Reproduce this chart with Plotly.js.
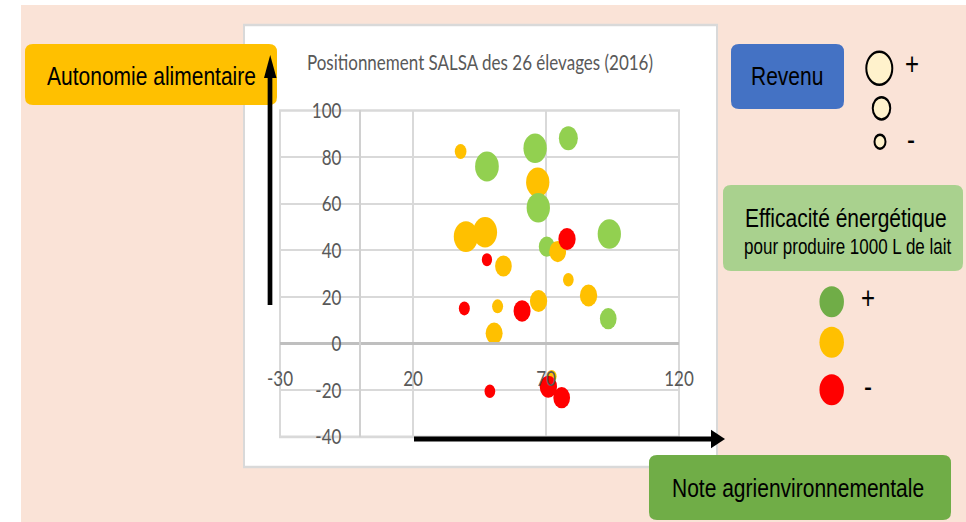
<!DOCTYPE html>
<html><head><meta charset="utf-8">
<script src="https://cdn.plot.ly/plotly-3.0.1.min.js"></script>
<style>
html,body{margin:0;padding:0;background:#fff;width:966px;height:522px;}
#wrap{width:966px;height:522px;position:relative;}
#chart{position:absolute;left:0;top:0;width:966px;height:411px;transform:scaleY(1.27);transform-origin:0 0;}
</style></head><body><div id="wrap"><div id="chart"></div></div>
<script>
// ---- data ----
const titleText = 'Positionnement SALSA des 26 élevages (2016)';
const labelX = 'Note agrienvironnementale';
const labelY = 'Autonomie alimentaire';
const labelRevenu = 'Revenu';
const labelEff1 = 'Efficacité énergétique';
const labelEff2 = 'pour produire 1000 L de lait';
const xTicks = [-30, 20, 70, 120];
const yTicks = [-40, -20, 0, 20, 40, 60, 80, 100];
const noteAgri  = [78.4, 65.9, 47.8, 93.8, 70.3, 93.4,
                   37.9, 66.9, 39.9, 47.1, 74.4, 54.0, 78.4, 86.0, 67.2, 51.8, 50.5, 72.1,
                   67.1,
                   77.9, 47.8, 39.3, 61.0, 48.9, 70.9, 75.9];
const autonomie = [88.1, 83.8, 76.0, 47.0, 41.6, 10.7,
                   82.4, 69.2, 45.9, 47.8, 39.5, 33.3, 27.4, 20.6, 18.3, 16.0, 4.4, -14.0,
                   58.3,
                   44.9, 36.0, 15.1, 14.0, -20.4, -18.5, -23.2];
const revenu    = [19, 23.3, 23.7, 23.3, 16, 16.7,
                   11.7, 23.3, 24.3, 24, 16.7, 16.7, 10.7, 17.3, 17.3, 11, 17, 10,
                   23.3,
                   17.3, 10.3, 11, 17, 10.7, 17.3, 16.7];
const efficacite = ['+','+','+','+','+','+',
                    '=','=','=','=','=','=','=','=','=','=','=','=',
                    '+',
                    '-','-','-','-','-','-','-'];

// ---- styles & geometry ----
const effColors = {'+': '#92D050', '=': '#FFC000', '-': '#FF0000'};
const S = 1.27, W = 966, H = 411;
const L = 280, R = 679, T = 87, B = 344;
const px = x => (x - L) / (R - L);
const py = y => (B - y / S) / (B - T);
const P = (x, y) => px(x).toFixed(5) + ',' + py(y).toFixed(5);

function roundRect(x0, y0, x1, y1, r, fill, line) {
  const d = 'M' + P(x0 + r, y0) + 'L' + P(x1 - r, y0) + 'Q' + P(x1, y0) + ' ' + P(x1, y0 + r) +
    'L' + P(x1, y1 - r) + 'Q' + P(x1, y1) + ' ' + P(x1 - r, y1) +
    'L' + P(x0 + r, y1) + 'Q' + P(x0, y1) + ' ' + P(x0, y1 - r) +
    'L' + P(x0, y0 + r) + 'Q' + P(x0, y0) + ' ' + P(x0 + r, y0) + 'Z';
  return {type: 'path', xref: 'paper', yref: 'paper', path: d, fillcolor: fill,
          line: line || {width: 0}, layer: 'above'};
}
function rect(x0, y0, x1, y1, fill, line, layer) {
  return {type: 'rect', xref: 'paper', yref: 'paper', x0: px(x0), x1: px(x1), y0: py(y1), y1: py(y0),
          fillcolor: fill, line: line || {width: 0}, layer: layer || 'below'};
}
function ellipse(cx, cy, d, fill, line) {
  return {type: 'circle', xref: 'paper', yref: 'paper',
          x0: px(cx - d / 2), x1: px(cx + d / 2), y0: py(cy + d * S / 2), y1: py(cy - d * S / 2),
          fillcolor: fill, line: line || {width: 0}, layer: 'above'};
}
function seg(x0, y0, x1, y1, w) {
  return {type: 'line', xref: 'paper', yref: 'paper', x0: px(x0), y0: py(y0), x1: px(x1), y1: py(y1),
          line: {color: '#000', width: w}, layer: 'above'};
}
function tri(a, b, c) {
  return {type: 'path', xref: 'paper', yref: 'paper', path: 'M' + P(a[0], a[1]) + 'L' + P(b[0], b[1]) + 'L' + P(c[0], c[1]) + 'Z',
          fillcolor: '#000', line: {width: 0}, layer: 'above'};
}
function txt(text, x, y, size, color) {
  return {text: text, xref: 'paper', yref: 'paper', x: px(x), y: py(y), showarrow: false,
          xanchor: 'center', yanchor: 'middle',
          font: {family: 'Liberation Sans, Arial, sans-serif', size: size, color: color || '#000'}};
}

const shapes = [
  rect(21, 5, 970, 530, '#FAE3D7'),
  rect(244, 25, 717, 467, '#FFFFFF', {color: '#D9D9D9', width: 2}),
  // label boxes
  roundRect(25, 44, 277, 105, 8, '#FFC000'),
  roundRect(649, 455, 951, 520, 8, '#70AD47'),
  roundRect(731, 44, 844, 109, 8, '#4472C4'),
  roundRect(723, 185, 963, 271, 8, '#A9D18E'),
  // axis arrows
  seg(270, 305, 270, 74, 4.7),
  tri([264, 78], [276.5, 78], [270.2, 55]),
  seg(414, 439, 713, 439, 4),
  tri([711, 429.8], [711, 448.3], [725, 439]),
  // revenu legend
  ellipse(879.3, 68.3, 26, '#FFF2CC', {color: '#000', width: 2}),
  ellipse(881.5, 108.3, 17.5, '#FFF2CC', {color: '#000', width: 2}),
  ellipse(880, 141.7, 11, '#FFF2CC', {color: '#000', width: 2}),
  // efficacite legend
  ellipse(831.7, 301.7, 24.5, '#70AD47'),
  ellipse(831.7, 342.3, 24.5, '#FFC000'),
  ellipse(831.7, 389.7, 24.5, '#FF0000')
];

const annotations = [
  txt(labelY, 151, 75, 21),
  txt(labelX, 797.5, 487, 21),
  txt(labelRevenu, 787, 76, 21),
  txt(labelEff1, 846, 218, 21),
  txt(labelEff2, 848, 246.5, 17),
  txt('+', 912, 64, 24),
  txt('-', 911, 139, 24),
  txt('+', 868, 298, 24),
  txt('-', 868, 387, 24)
];

const trace = {
  type: 'scatter', mode: 'markers',
  x: noteAgri, y: autonomie,
  marker: {size: revenu, sizemode: 'diameter', color: efficacite.map(e => effColors[e]), line: {width: 0}, opacity: 1},
  hoverinfo: 'skip', cliponaxis: false
};

const tickFont = {family: 'Lato, sans-serif', size: 17, color: '#595959'};
const layout = {
  width: W, height: H,
  margin: {l: L, r: W - R, t: T, b: H - B, pad: 0},
  paper_bgcolor: '#FFFFFF', plot_bgcolor: 'rgba(0,0,0,0)',
  showlegend: false,
  title: {text: titleText, xref: 'paper', x: px(480), xanchor: 'center',
          yref: 'container', y: 1 - (62.7 / S) / H, yanchor: 'middle',
          font: {family: 'Lato, sans-serif', size: 17, color: '#595959'}},
  xaxis: {range: [-30, 120], tickmode: 'array', tickvals: xTicks, ticktext: xTicks.map(String),
          anchor: 'free', position: 40 / 140, showgrid: true, gridcolor: '#D9D9D9', gridwidth: 2,
          zeroline: false, showline: true, linecolor: '#BFBFBF', linewidth: 2, ticks: '',
          ticklabelstandoff: 12, tickfont: tickFont, fixedrange: true},
  yaxis: {range: [-40, 100], tickmode: 'array', tickvals: yTicks, ticktext: yTicks.map(String),
          anchor: 'free', position: 30 / 150, showgrid: true, gridcolor: '#D9D9D9', gridwidth: 1.6,
          zeroline: false, showline: true, linecolor: '#D0D0D0', linewidth: 2, ticks: '',
          ticklabelstandoff: 14, tickfont: tickFont, fixedrange: true},
  shapes: shapes.concat([{type: 'rect', xref: 'paper', yref: 'paper', x0: 0, x1: 1, y0: 0, y1: 1,
          line: {color: '#D9D9D9', width: 2}, fillcolor: 'rgba(0,0,0,0)', layer: 'below'}]),
  annotations: annotations
};

Plotly.newPlot('chart', [trace], layout, {staticPlot: true, displayModeBar: false});
</script></body></html>
